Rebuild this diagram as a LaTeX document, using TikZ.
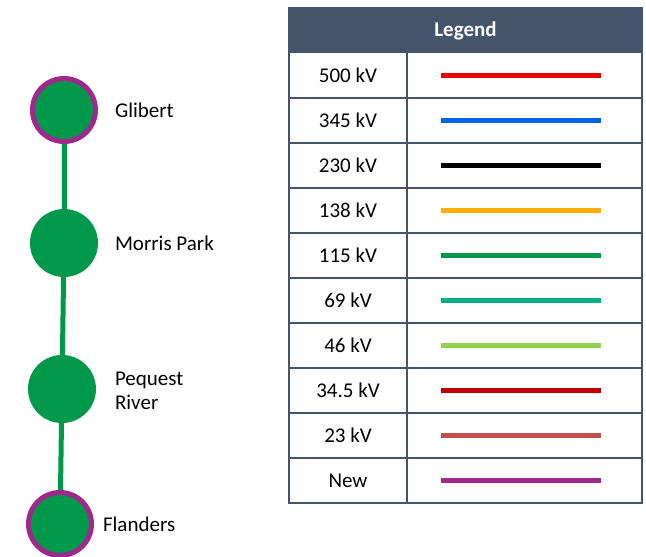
\documentclass[tikz,border=0pt]{standalone}
\usepackage{fontspec}
\setmainfont{Carlito}
\definecolor{busgreen}{HTML}{00994C}
\definecolor{newpurple}{HTML}{A0278C}
\definecolor{slate}{HTML}{44546A}
\definecolor{kvA}{HTML}{E60000}
\definecolor{kvB}{HTML}{0064E6}
\definecolor{kvC}{HTML}{000000}
\definecolor{kvD}{HTML}{FFAE00}
\definecolor{kvE}{HTML}{00964B}
\definecolor{kvF}{HTML}{00B086}
\definecolor{kvG}{HTML}{92D050}
\definecolor{kvH}{HTML}{C00000}
\definecolor{kvI}{HTML}{C0504D}
\definecolor{kvJ}{HTML}{A0278C}
\tikzset{
  bus/.style={circle,fill=busgreen,minimum size=68pt,inner sep=0pt},
  newbus/.style={bus,draw=newpurple,line width=5pt,minimum size=63pt},
  tie/.style={busgreen,line width=5pt},
  lbl/.style={anchor=west,font=\fontsize{21}{25}\selectfont,align=left},
  cell/.style={font=\fontsize{21}{25}\selectfont},
  frame/.style={slate,line width=2pt},
  sample/.style={line width=5pt}
}
\begin{document}
\begin{tikzpicture}[x=1pt,y=-1pt]
\useasboundingbox (0,0) rectangle (646,557);
\begin{scope}
\clip (0,0) rectangle (646,557);
% substations and the circuit between them
\node[newbus] (gl) at (64,110) {};
\node[bus] (mp) at (64,243) {};
\node[bus] (pr) at (62,389) {};
\node[newbus] (fl) at (60,524) {};
\draw[tie] (gl) -- (mp);
\draw[tie] (mp) -- (pr);
\draw[tie] (pr) -- (fl);
\node[lbl] (glt) at (111.5,110) {Glibert};
\node[lbl] (mpt) at (111.5,243) {Morris Park};
\node[lbl] (prt) at (111.5,391) {Pequest\\[-1pt]River};
\node[lbl] (flt) at (99.5,524) {Flanders};
\end{scope}
% legend table
\fill[slate] (289,8) rectangle (642,53);
\node[font=\fontsize{21}{25}\selectfont\bfseries,text=white] (hdr) at (465.5,31) {Legend};
\foreach \i/\t/\c in {0/500 kV/kvA,1/345 kV/kvB,2/230 kV/kvC,3/138 kV/kvD,4/115 kV/kvE,5/69 kV/kvF,6/46 kV/kvG,7/34.5 kV/kvH,8/23 kV/kvI,9/New/kvJ}{
  \node[cell] (r\i) at (348,75.5+45*\i) {\t};
  \coordinate (sa\i) at (441,75.5+45*\i);
  \coordinate (sb\i) at (601,75.5+45*\i);
  \draw[sample,\c] (sa\i) -- (sb\i);
  \draw[frame] (289,98+45*\i) -- (642,98+45*\i);
}
\draw[frame] (289,8) rectangle (642,503);
\draw[frame] (407,53) -- (407,503);
\end{tikzpicture}
\end{document}
